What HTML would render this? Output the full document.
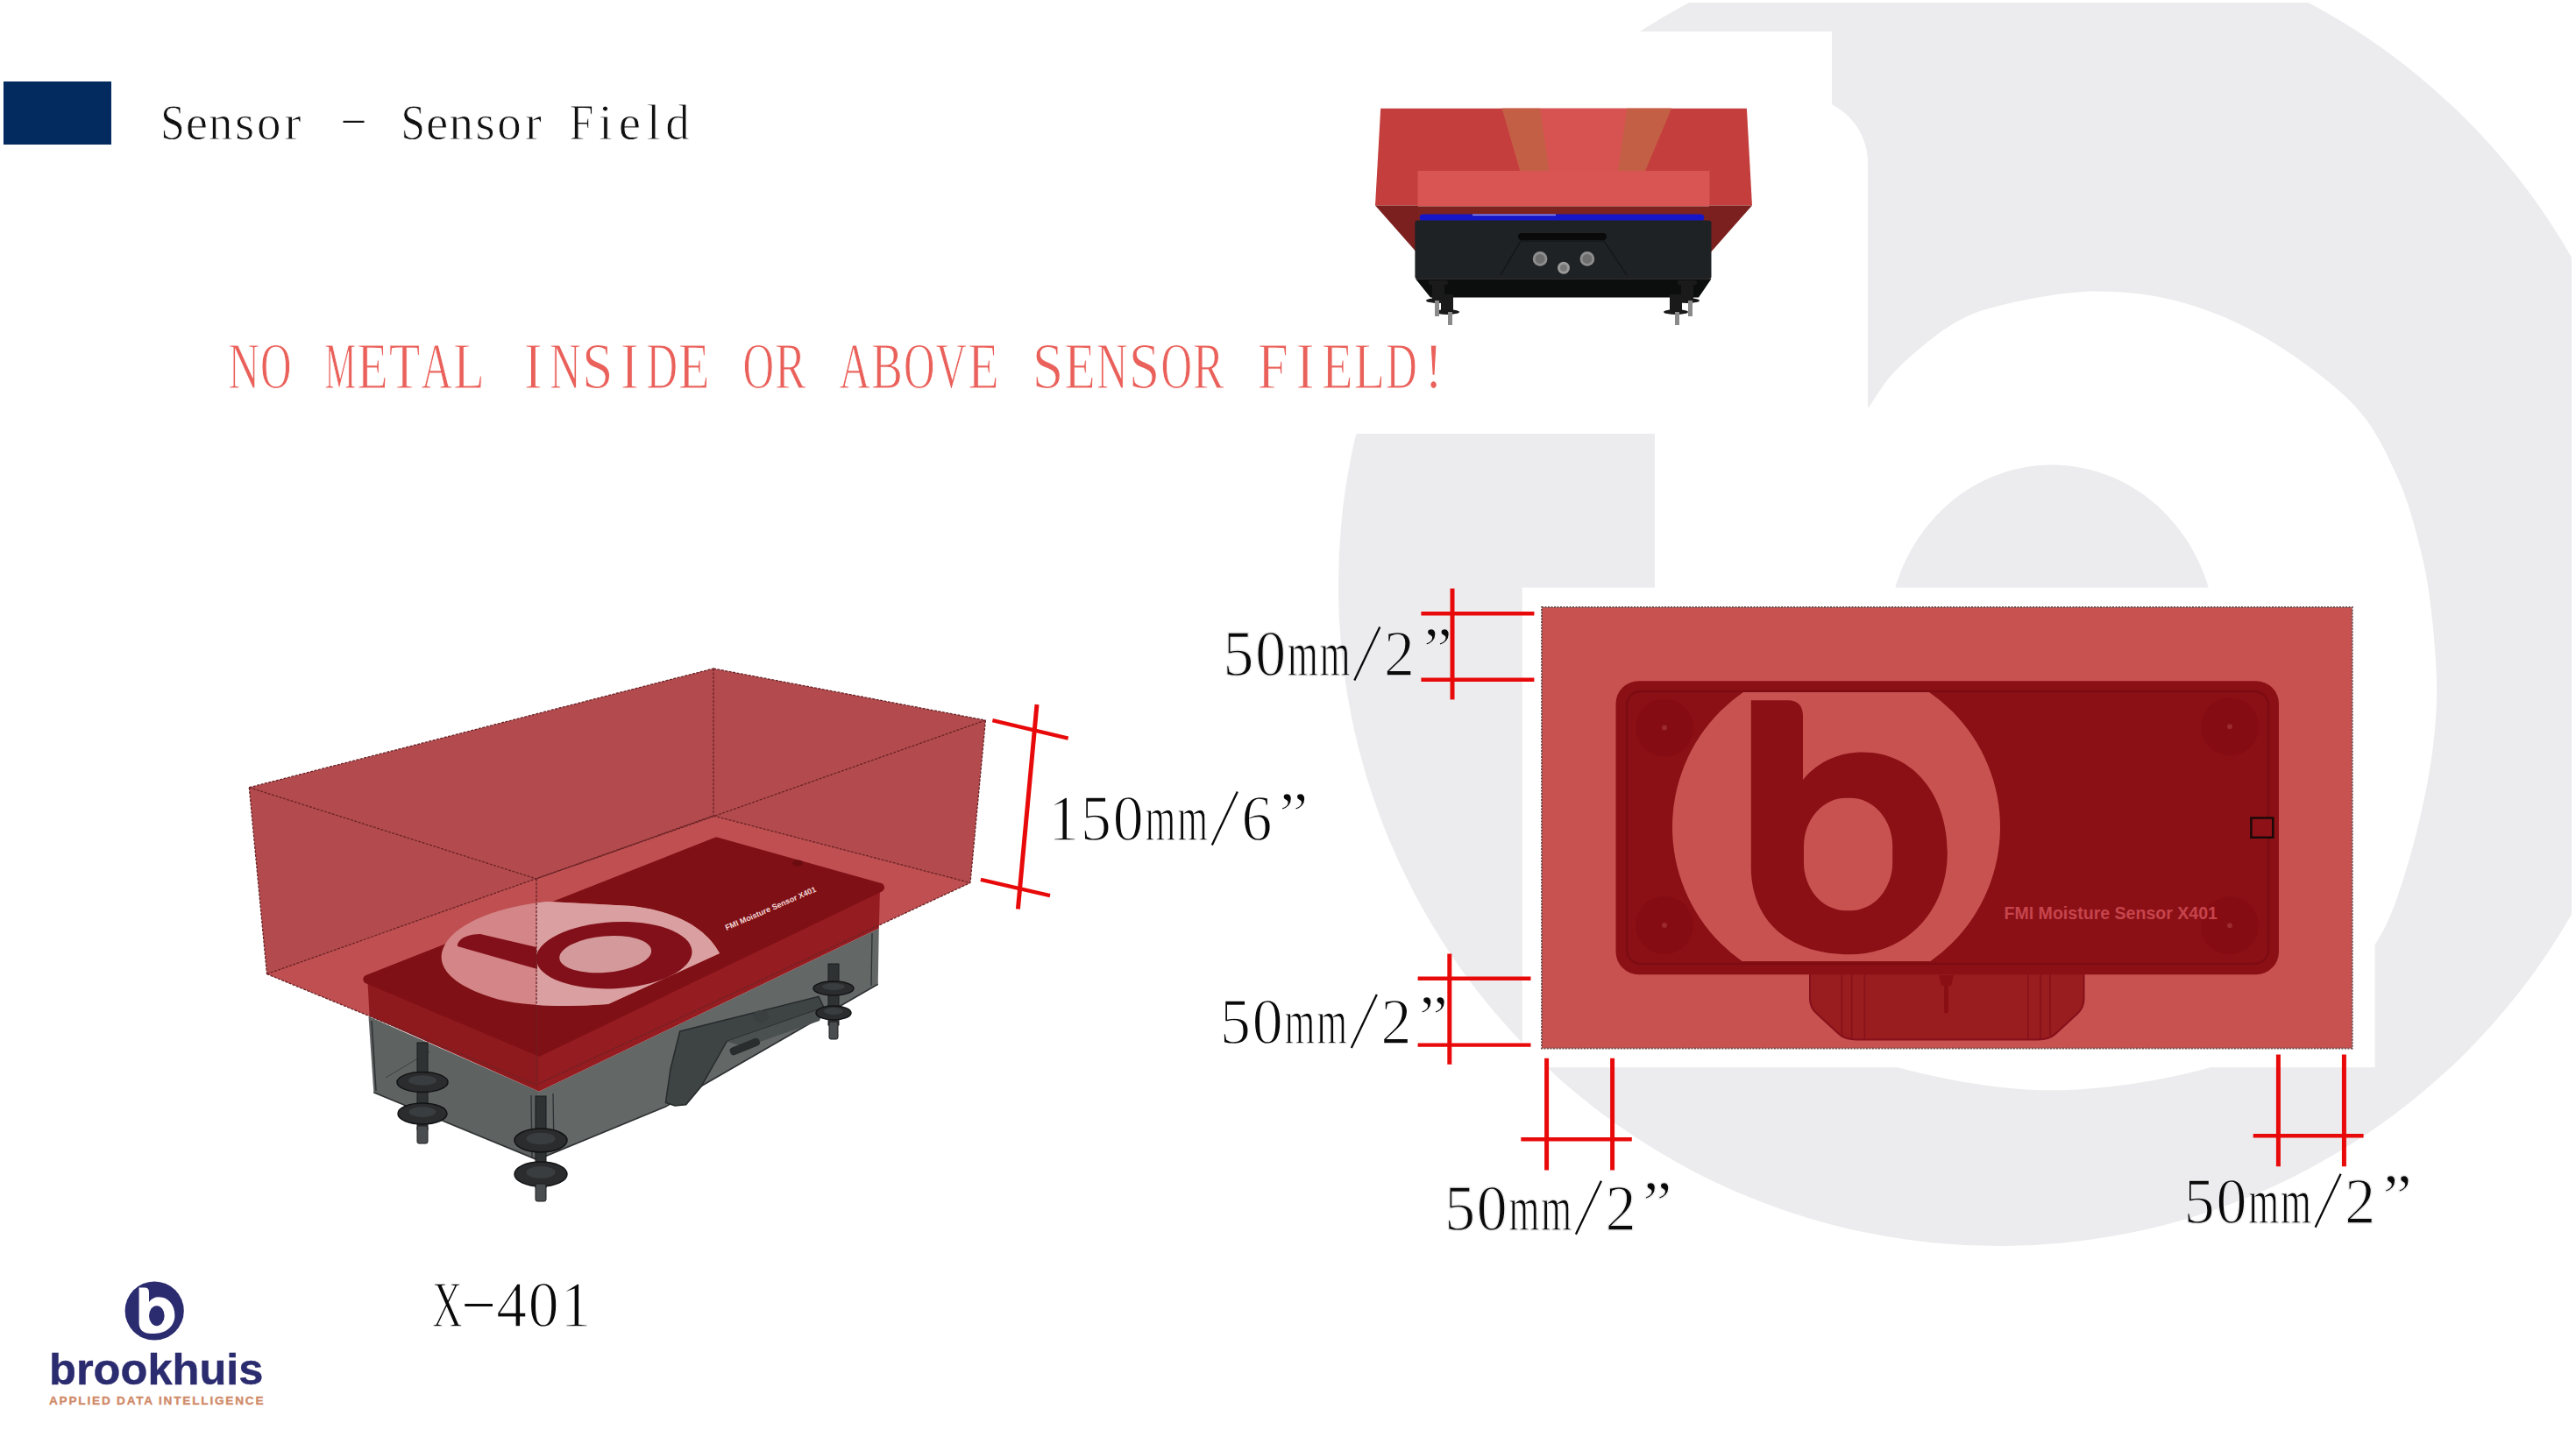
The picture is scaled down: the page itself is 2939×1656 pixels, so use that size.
<!DOCTYPE html>
<html><head><meta charset="utf-8"><title>Sensor - Sensor Field</title>
<style>
html,body{margin:0;padding:0;background:#fff;}
body{width:2939px;height:1656px;position:relative;overflow:hidden;font-family:"Liberation Serif",serif;}
svg{position:absolute;left:0;top:0;}
svg text{font-family:"Liberation Serif",serif;}
</style></head>
<body>
<svg width="2939" height="1656" viewBox="0 0 2939 1656">
<defs>
<clipPath id="wmclip"><rect x="0" y="3" width="2934" height="1653"/></clipPath>
<clipPath id="logoclip"><rect x="1843" y="790" width="760" height="307"/></clipPath>
</defs>
<g clip-path="url(#wmclip)">
<circle cx="2280.4" cy="668.6" r="753.5" fill="#ececee"/>
<path d="M1888 1120 V111 H2056 A75 75 0 0 1 2131 186 V1120 Z" fill="#fff"/>
<path d="M2131.0 466.1 C2142.4 450.9 2148.5 436.8 2165.1 420.5 C2181.7 404.2 2208.6 380.9 2230.3 368.4 C2252.0 355.9 2268.3 351.6 2295.4 345.6 C2322.5 339.6 2360.5 332.6 2393.1 332.6 C2425.7 332.6 2458.2 336.4 2490.8 345.6 C2523.4 354.8 2556.0 368.3 2588.6 387.9 C2621.2 407.4 2661.9 436.8 2686.3 462.9 C2710.7 489.0 2722.6 517.2 2735.1 544.3 C2747.6 571.4 2754.7 599.8 2761.2 625.7 C2767.7 651.7 2771.1 671.6 2774.2 700.0 C2777.3 728.4 2780.7 764.3 2780.0 796.0 C2779.3 827.7 2776.2 856.0 2770.0 890.0 C2763.8 924.0 2753.2 968.5 2743.0 1000.0 C2732.8 1031.5 2726.2 1052.3 2709.0 1079.0 C2691.8 1105.7 2671.7 1136.7 2640.0 1160.0 C2608.3 1183.3 2569.0 1205.0 2519.0 1219.0 C2469.0 1233.0 2398.5 1244.3 2340.0 1244.3 C2281.5 1244.3 2214.7 1231.4 2168.0 1219.0 C2121.3 1206.6 2096.0 1186.3 2060.0 1170.0 L1960 1080 L1950 500 Z" fill="#fff"/>
<rect x="2153.7" y="530.6" width="374.6" height="522" rx="187" ry="200" fill="#ececee"/>
</g>
<rect x="1480" y="36" width="610" height="459" fill="#fff"/>
<rect x="1736.7" y="670.6" width="972.8" height="547.6" fill="#fff"/>
<g>
<rect x="1759" y="693" width="924.7" height="503.5" fill="#c85250" stroke="#6e5050" stroke-width="2" stroke-dasharray="2 1.5"/>
<path d="M2065 1105 H2377.5 V1140 Q2377.5 1150 2370 1157 L2345 1180 Q2338 1186.4 2325 1186.4 H2118 Q2105 1186.4 2098 1180 L2073 1157 Q2065 1150 2065 1140 Z" fill="#991c1f" stroke="#85101a" stroke-width="2"/>
<g stroke="#85121a" stroke-width="1.6"><line x1="2101.5" y1="1112" x2="2101.5" y2="1184"/><line x1="2112.7" y1="1112" x2="2112.7" y2="1186"/><line x1="2127.3" y1="1112" x2="2127.3" y2="1186"/>
<line x1="2313.9" y1="1112" x2="2313.9" y2="1186"/><line x1="2327.9" y1="1112" x2="2327.9" y2="1186"/><line x1="2339" y1="1112" x2="2339" y2="1182"/></g>
<path d="M2212 1113 H2229 L2226 1125 H2223 V1155 Q2220.5 1158 2218 1155 V1125 H2215 Z" fill="#8a0f14"/>
<rect x="1843.5" y="777.2" width="756.5" height="335" rx="26" fill="#8b1016"/>
<rect x="1856" y="789" width="732" height="311" rx="16" fill="none" stroke="#7d0c12" stroke-width="2.5"/>
<circle cx="1899" cy="830.5" r="33" fill="#850c12"/><circle cx="1899" cy="830.5" r="3" fill="#9a2a2e"/>
<circle cx="1899" cy="1056" r="33" fill="#850c12"/><circle cx="1899" cy="1056" r="3" fill="#9a2a2e"/>
<circle cx="2544" cy="829.3" r="33" fill="#850c12"/><circle cx="2544" cy="829.3" r="3" fill="#9a2a2e"/>
<circle cx="2544" cy="1056.3" r="33" fill="#850c12"/><circle cx="2544" cy="1056.3" r="3" fill="#9a2a2e"/>
<g clip-path="url(#logoclip)"><circle cx="2095" cy="944" r="187" fill="#c85250"/></g>
<path d="M1997.8 799.3 H2040 Q2057 799.3 2057 818 V890 C2075 868 2100 858.5 2125 858.5 C2185 858.5 2221.8 910 2221.8 973 C2221.8 1040 2175 1089.3 2110 1089.3 C2040 1089.3 1997.8 1050 1997.8 990 Z" fill="#8b1016"/>
<rect x="2058" y="910.8" width="101.2" height="128.5" rx="48" ry="55" fill="#c85250"/>
<rect x="2568.4" y="933.5" width="24.9" height="22.3" fill="#8e1117" stroke="#1a0a0a" stroke-width="2.5"/>
<text x="2286.5" y="1048.5" style="font-family:'Liberation Sans',sans-serif;font-weight:bold" font-size="20.5" fill="#c6444c" textLength="243.5" lengthAdjust="spacingAndGlyphs">FMI Moisture Sensor X401</text>
</g>
<g>
<polygon points="1575.2,123.8 1992.9,123.8 1999,234.4 1569,234.4" fill="#c33e3c"/>
<polygon points="1569,234.4 1618,234.4 1618,290" fill="#7c1f1f"/>
<polygon points="1999,234.4 1950,234.4 1950,290" fill="#7c1f1f"/>
<polygon points="1713.7,123.8 1907,123.8 1877,195 1734.4,195" fill="#d75351"/>
<polygon points="1713.7,123.8 1757,123.8 1767.5,195 1734.4,195" fill="#c35f45"/>
<polygon points="1856.4,123.8 1907,123.8 1877,195 1846,195" fill="#c35f45"/>
<rect x="1617.5" y="195" width="333" height="40.4" fill="#d85553"/>
<rect x="1617.5" y="235.4" width="333" height="17" fill="#7c2320"/>
<rect x="1619.6" y="244.5" width="324.7" height="8" rx="4" fill="#1616c8"/>
<rect x="1680" y="244.5" width="95" height="1.6" fill="#8a8ae8"/>
<rect x="1614.4" y="251.5" width="338.1" height="67" rx="3" fill="#1f2225"/>
<polygon points="1615,318.3 1952.5,318.3 1938,339.5 1632,339.5" fill="#0c0d0d"/>
<rect x="1732" y="266" width="101" height="8" rx="4" fill="#0a0a0b"/>
<polyline points="1712,314 1735,275 1830,275 1856,314" fill="none" stroke="#15171a" stroke-width="1.5"/>
<circle cx="1757.1" cy="295.4" r="8.3" fill="#8e8e8e"/><circle cx="1757.1" cy="295.4" r="5.5" fill="#6e6e6e"/>
<circle cx="1810.9" cy="295.4" r="8.3" fill="#8e8e8e"/><circle cx="1810.9" cy="295.4" r="5.5" fill="#6e6e6e"/>
<circle cx="1784" cy="305.7" r="7" fill="#9a9a9a"/><circle cx="1784" cy="305.7" r="4" fill="#777"/>
<g fill="#1a1a1a">
<rect x="1630" y="320" width="22" height="5" rx="2"/><rect x="1634" y="325" width="14" height="18"/><ellipse cx="1641" cy="343" rx="14" ry="3"/>
<rect x="1644" y="336" width="14" height="20"/><ellipse cx="1651" cy="356" rx="14" ry="3"/>
<rect x="1914" y="320" width="22" height="5" rx="2"/><rect x="1918" y="325" width="14" height="18"/><ellipse cx="1925" cy="343" rx="14" ry="3"/>
<rect x="1905" y="336" width="14" height="20"/><ellipse cx="1912" cy="356" rx="14" ry="3"/>
</g>
<g fill="#8a8a8a">
<rect x="1637" y="343" width="5" height="18"/><rect x="1652" y="356" width="5" height="15"/>
<rect x="1926" y="343" width="5" height="18"/><rect x="1911" y="356" width="5" height="15"/>
</g>
</g>
<polygon points="284.3,898.7 814.0,763.0 1124.4,822.0 1107.0,1007.5 612.0,1238.0 304.5,1111.6" fill="#b34b4e"/>
<polygon points="304.5,1111.6 814.0,931.0 1107.0,1007.5 612.0,1238.0" fill="#bf4f51"/>
<g>
<polygon points="420.5,1160 615,1245.8 612.7,1323.6 426.3,1246.7" fill="#5e6261"/>
<polygon points="615,1245.8 1002.8,1059.5 1001.7,1123.3 759.4,1263 612.7,1323.6" fill="#636766"/>
<polyline points="426.3,1246.7 612.7,1323.6 759.4,1263 1001.7,1123.3" fill="none" stroke="#2e3133" stroke-width="1.6"/>
<line x1="424" y1="1165" x2="429" y2="1245" stroke="#2e3133" stroke-width="1.5"/>
<line x1="606" y1="1250" x2="607" y2="1322" stroke="#2e3133" stroke-width="1.3"/>
<line x1="631" y1="1248" x2="632" y2="1314" stroke="#2e3133" stroke-width="1.3"/>
<line x1="440" y1="1230" x2="490" y2="1200" stroke="#3e4443" stroke-width="1"/>
<line x1="995" y1="1065" x2="994" y2="1125" stroke="#2e3133" stroke-width="1.3"/>
<polygon points="775.7,1176.9 934,1137.3 940,1150 829.3,1188.5 800,1240 782.7,1260.7 770,1262 759.4,1258.4 765,1220" fill="#3e4344" stroke="#262a2b" stroke-width="1.5"/>
<polygon points="829.3,1188.5 940,1150 935,1165 850,1195" fill="#4a4f50"/>
<rect x="832" y="1190" width="36" height="9" rx="4" transform="rotate(-22 850 1195)" fill="#2a2d2e"/>
<ellipse cx="868" cy="1160" rx="9" ry="7" fill="#3a3f40"/>
</g>
<rect x="476" y="1190" width="12" height="99" fill="#2f3233" stroke="#1a1b1c" stroke-width="1"/><ellipse cx="482" cy="1235" rx="29" ry="11.5" fill="#2a2c2e" stroke="#121314" stroke-width="1.5"/><ellipse cx="482" cy="1233" rx="16.0" ry="5.8" fill="#3a3d3f"/><ellipse cx="482" cy="1271" rx="28" ry="12" fill="#2a2c2e" stroke="#121314" stroke-width="1.5"/><ellipse cx="482" cy="1269" rx="15.4" ry="6.0" fill="#3a3d3f"/><rect x="476.0" y="1285" width="12" height="20" rx="2" fill="#4a4d4f" stroke="#1e1f20" stroke-width="1"/>
<rect x="611" y="1251" width="12" height="104" fill="#2f3233" stroke="#1a1b1c" stroke-width="1"/><ellipse cx="617" cy="1301.5" rx="30" ry="13.4" fill="#2a2c2e" stroke="#121314" stroke-width="1.5"/><ellipse cx="617" cy="1299.5" rx="16.5" ry="6.7" fill="#3a3d3f"/><ellipse cx="617" cy="1340" rx="30" ry="14" fill="#2a2c2e" stroke="#121314" stroke-width="1.5"/><ellipse cx="617" cy="1338" rx="16.5" ry="7.0" fill="#3a3d3f"/><rect x="611.0" y="1351" width="12" height="20" rx="2" fill="#4a4d4f" stroke="#1e1f20" stroke-width="1"/>
<rect x="945" y="1100" width="12" height="70" fill="#2f3233" stroke="#1a1b1c" stroke-width="1"/><ellipse cx="951" cy="1128" rx="23" ry="8" fill="#2a2c2e" stroke="#121314" stroke-width="1.5"/><ellipse cx="951" cy="1126" rx="12.7" ry="4.0" fill="#3a3d3f"/><ellipse cx="951" cy="1156" rx="20" ry="8" fill="#2a2c2e" stroke="#121314" stroke-width="1.5"/><ellipse cx="951" cy="1154" rx="11.0" ry="4.0" fill="#3a3d3f"/><rect x="946.0" y="1166" width="10" height="20" rx="2" fill="#4a4d4f" stroke="#1e1f20" stroke-width="1"/>
<polygon points="419.3,1117.7 615.0,1200.4 615.0,1245.8 421.6,1159.6" fill="#8f1a1e"/>
<polygon points="615.0,1200.4 1004.0,1012.9 1002.8,1059.5 615.0,1245.8" fill="#951c20"/>
<polygon points="419.3,1117.7 817.6,960.5 1004.0,1012.9 615.0,1200.4" fill="#7f1015" stroke="#7f1015" stroke-width="10" stroke-linejoin="round"/>
<polygon points="419.3,1117.7 817.6,960.5 1004.0,1012.9 615.0,1200.4" fill="#7f1015"/>
<defs><clipPath id="lidr"><rect x="612" y="900" width="400" height="400"/></clipPath></defs>
<path d="M503.6 1091.5 C505 1060 560 1035 625 1029 L721 1034 C770 1040 805 1058 821 1088 L694 1146 C640 1150 590 1148 560 1138 C520 1125 503 1108 503.6 1091.5 Z" fill="#d48587"/>
<path d="M503.6 1091.5 C505 1060 560 1035 625 1029 L721 1034 C770 1040 805 1058 821 1088 L694 1146 C640 1150 590 1148 560 1138 C520 1125 503 1108 503.6 1091.5 Z" fill="#da9fa0" clip-path="url(#lidr)"/>
<ellipse cx="700.6" cy="1090.2" rx="89" ry="38" transform="rotate(-3 700.6 1090.2)" fill="#82101a"/>
<ellipse cx="690.7" cy="1089.1" rx="52.6" ry="20.7" transform="rotate(-5 690.7 1089.1)" fill="#d4999a"/>
<path d="M522 1077.5 C525 1070 535 1066 548 1066 L612 1081 L613 1106 L522 1080 Z" fill="#82101a"/>
<text x="0" y="0" style="font-family:'Liberation Sans',sans-serif;font-weight:bold" font-size="9" fill="#f2d6d6" transform="translate(829 1062) rotate(-23.5)">FMI Moisture Sensor X401</text>
<ellipse cx="910" cy="985" rx="6" ry="3.5" fill="#6a0c10"/>
<line x1="284.3" y1="898.7" x2="814.0" y2="763.0" stroke="#6a2326" stroke-width="1.3" stroke-dasharray="3 1.5"/><line x1="814.0" y1="763.0" x2="1124.4" y2="822.0" stroke="#6a2326" stroke-width="1.3" stroke-dasharray="3 1.5"/><line x1="1124.4" y1="822.0" x2="1107.0" y2="1007.5" stroke="#6a2326" stroke-width="1.3" stroke-dasharray="3 1.5"/><line x1="284.3" y1="898.7" x2="304.5" y2="1111.6" stroke="#6a2326" stroke-width="1.3" stroke-dasharray="3 1.5"/><line x1="304.5" y1="1111.6" x2="612.0" y2="1238.0" stroke="#6a2326" stroke-width="1.3" stroke-dasharray="3 1.5"/><line x1="612.0" y1="1238.0" x2="1107.0" y2="1007.5" stroke="#6a2326" stroke-width="1.3" stroke-dasharray="3 1.5"/><line x1="284.3" y1="898.7" x2="612.0" y2="1003.0" stroke="#6a2326" stroke-width="1.3" stroke-dasharray="3 1.5"/><line x1="612.0" y1="1003.0" x2="1124.4" y2="822.0" stroke="#6a2326" stroke-width="1.3" stroke-dasharray="3 1.5"/><line x1="304.5" y1="1111.6" x2="814.0" y2="931.0" stroke="#6a2326" stroke-width="1.3" stroke-dasharray="3 1.5"/><line x1="814.0" y1="931.0" x2="1107.0" y2="1007.5" stroke="#6a2326" stroke-width="1.3" stroke-dasharray="3 1.5"/><line x1="814.0" y1="763.0" x2="814.0" y2="931.0" stroke="#6a2326" stroke-width="1.3" stroke-dasharray="3 1.5"/><line x1="612.0" y1="1003.0" x2="612.0" y2="1238.0" stroke="#6a2326" stroke-width="1.3" stroke-dasharray="3 1.5"/>
<rect x="4" y="93" width="123" height="72" fill="#032b5f"/>
<text x="196.9" y="159.4" text-anchor="middle" font-size="57" fill="#111" transform="translate(196.9 0) scale(0.866 1) translate(-196.9 0)" stroke="#fff" stroke-width="0.9">S</text>
<text x="224.3" y="159.4" text-anchor="middle" font-size="57" fill="#111" transform="translate(224.3 0) scale(1.000 1) translate(-224.3 0)" stroke="#fff" stroke-width="0.9">e</text>
<text x="251.8" y="159.4" text-anchor="middle" font-size="57" fill="#111" transform="translate(251.8 0) scale(0.963 1) translate(-251.8 0)" stroke="#fff" stroke-width="0.9">n</text>
<text x="279.2" y="159.4" text-anchor="middle" font-size="57" fill="#111" transform="translate(279.2 0) scale(1.000 1) translate(-279.2 0)" stroke="#fff" stroke-width="0.9">s</text>
<text x="306.7" y="159.4" text-anchor="middle" font-size="57" fill="#111" transform="translate(306.7 0) scale(0.963 1) translate(-306.7 0)" stroke="#fff" stroke-width="0.9">o</text>
<text x="334.1" y="159.4" text-anchor="middle" font-size="57" fill="#111" transform="translate(334.1 0) scale(1.000 1) translate(-334.1 0)" stroke="#fff" stroke-width="0.9">r</text>
<rect x="391.5" y="137.8" width="24" height="2.2" fill="#111"/>
<text x="471.3" y="159.4" text-anchor="middle" font-size="57" fill="#111" transform="translate(471.3 0) scale(0.866 1) translate(-471.3 0)" stroke="#fff" stroke-width="0.9">S</text>
<text x="498.7" y="159.4" text-anchor="middle" font-size="57" fill="#111" transform="translate(498.7 0) scale(1.000 1) translate(-498.7 0)" stroke="#fff" stroke-width="0.9">e</text>
<text x="526.2" y="159.4" text-anchor="middle" font-size="57" fill="#111" transform="translate(526.2 0) scale(0.963 1) translate(-526.2 0)" stroke="#fff" stroke-width="0.9">n</text>
<text x="553.6" y="159.4" text-anchor="middle" font-size="57" fill="#111" transform="translate(553.6 0) scale(1.000 1) translate(-553.6 0)" stroke="#fff" stroke-width="0.9">s</text>
<text x="581.1" y="159.4" text-anchor="middle" font-size="57" fill="#111" transform="translate(581.1 0) scale(0.963 1) translate(-581.1 0)" stroke="#fff" stroke-width="0.9">o</text>
<text x="608.5" y="159.4" text-anchor="middle" font-size="57" fill="#111" transform="translate(608.5 0) scale(1.000 1) translate(-608.5 0)" stroke="#fff" stroke-width="0.9">r</text>
<text x="663.4" y="159.4" text-anchor="middle" font-size="57" fill="#111" transform="translate(663.4 0) scale(0.866 1) translate(-663.4 0)" stroke="#fff" stroke-width="0.9">F</text>
<text x="690.8" y="159.4" text-anchor="middle" font-size="57" fill="#111" transform="translate(690.8 0) scale(1.000 1) translate(-690.8 0)" stroke="#fff" stroke-width="0.9">i</text>
<text x="718.3" y="159.4" text-anchor="middle" font-size="57" fill="#111" transform="translate(718.3 0) scale(1.000 1) translate(-718.3 0)" stroke="#fff" stroke-width="0.9">e</text>
<text x="745.7" y="159.4" text-anchor="middle" font-size="57" fill="#111" transform="translate(745.7 0) scale(1.000 1) translate(-745.7 0)" stroke="#fff" stroke-width="0.9">l</text>
<text x="773.1" y="159.4" text-anchor="middle" font-size="57" fill="#111" transform="translate(773.1 0) scale(0.963 1) translate(-773.1 0)" stroke="#fff" stroke-width="0.9">d</text>
<text x="278.2" y="443.2" text-anchor="middle" font-size="75" fill="#ea605a" transform="translate(278.2 0) scale(0.657 1) translate(-278.2 0)" stroke="#fff" stroke-width="1.2">N</text>
<text x="314.9" y="443.2" text-anchor="middle" font-size="75" fill="#ea605a" transform="translate(314.9 0) scale(0.657 1) translate(-314.9 0)" stroke="#fff" stroke-width="1.2">O</text>
<text x="388.3" y="443.2" text-anchor="middle" font-size="75" fill="#ea605a" transform="translate(388.3 0) scale(0.534 1) translate(-388.3 0)" stroke="#fff" stroke-width="1.2">M</text>
<text x="425.0" y="443.2" text-anchor="middle" font-size="75" fill="#ea605a" transform="translate(425.0 0) scale(0.777 1) translate(-425.0 0)" stroke="#fff" stroke-width="1.2">E</text>
<text x="461.6" y="443.2" text-anchor="middle" font-size="75" fill="#ea605a" transform="translate(461.6 0) scale(0.777 1) translate(-461.6 0)" stroke="#fff" stroke-width="1.2">T</text>
<text x="498.3" y="443.2" text-anchor="middle" font-size="75" fill="#ea605a" transform="translate(498.3 0) scale(0.657 1) translate(-498.3 0)" stroke="#fff" stroke-width="1.2">A</text>
<text x="535.0" y="443.2" text-anchor="middle" font-size="75" fill="#ea605a" transform="translate(535.0 0) scale(0.777 1) translate(-535.0 0)" stroke="#fff" stroke-width="1.2">L</text>
<text x="608.4" y="443.2" text-anchor="middle" font-size="75" fill="#ea605a" transform="translate(608.4 0) scale(0.850 1) translate(-608.4 0)" stroke="#fff" stroke-width="1.2">I</text>
<text x="645.1" y="443.2" text-anchor="middle" font-size="75" fill="#ea605a" transform="translate(645.1 0) scale(0.657 1) translate(-645.1 0)" stroke="#fff" stroke-width="1.2">N</text>
<text x="681.8" y="443.2" text-anchor="middle" font-size="75" fill="#ea605a" transform="translate(681.8 0) scale(0.850 1) translate(-681.8 0)" stroke="#fff" stroke-width="1.2">S</text>
<text x="718.5" y="443.2" text-anchor="middle" font-size="75" fill="#ea605a" transform="translate(718.5 0) scale(0.850 1) translate(-718.5 0)" stroke="#fff" stroke-width="1.2">I</text>
<text x="755.2" y="443.2" text-anchor="middle" font-size="75" fill="#ea605a" transform="translate(755.2 0) scale(0.657 1) translate(-755.2 0)" stroke="#fff" stroke-width="1.2">D</text>
<text x="791.9" y="443.2" text-anchor="middle" font-size="75" fill="#ea605a" transform="translate(791.9 0) scale(0.777 1) translate(-791.9 0)" stroke="#fff" stroke-width="1.2">E</text>
<text x="865.2" y="443.2" text-anchor="middle" font-size="75" fill="#ea605a" transform="translate(865.2 0) scale(0.657 1) translate(-865.2 0)" stroke="#fff" stroke-width="1.2">O</text>
<text x="901.9" y="443.2" text-anchor="middle" font-size="75" fill="#ea605a" transform="translate(901.9 0) scale(0.711 1) translate(-901.9 0)" stroke="#fff" stroke-width="1.2">R</text>
<text x="975.3" y="443.2" text-anchor="middle" font-size="75" fill="#ea605a" transform="translate(975.3 0) scale(0.657 1) translate(-975.3 0)" stroke="#fff" stroke-width="1.2">A</text>
<text x="1012.0" y="443.2" text-anchor="middle" font-size="75" fill="#ea605a" transform="translate(1012.0 0) scale(0.711 1) translate(-1012.0 0)" stroke="#fff" stroke-width="1.2">B</text>
<text x="1048.7" y="443.2" text-anchor="middle" font-size="75" fill="#ea605a" transform="translate(1048.7 0) scale(0.657 1) translate(-1048.7 0)" stroke="#fff" stroke-width="1.2">O</text>
<text x="1085.4" y="443.2" text-anchor="middle" font-size="75" fill="#ea605a" transform="translate(1085.4 0) scale(0.657 1) translate(-1085.4 0)" stroke="#fff" stroke-width="1.2">V</text>
<text x="1122.1" y="443.2" text-anchor="middle" font-size="75" fill="#ea605a" transform="translate(1122.1 0) scale(0.777 1) translate(-1122.1 0)" stroke="#fff" stroke-width="1.2">E</text>
<text x="1195.5" y="443.2" text-anchor="middle" font-size="75" fill="#ea605a" transform="translate(1195.5 0) scale(0.850 1) translate(-1195.5 0)" stroke="#fff" stroke-width="1.2">S</text>
<text x="1232.1" y="443.2" text-anchor="middle" font-size="75" fill="#ea605a" transform="translate(1232.1 0) scale(0.777 1) translate(-1232.1 0)" stroke="#fff" stroke-width="1.2">E</text>
<text x="1268.8" y="443.2" text-anchor="middle" font-size="75" fill="#ea605a" transform="translate(1268.8 0) scale(0.657 1) translate(-1268.8 0)" stroke="#fff" stroke-width="1.2">N</text>
<text x="1305.5" y="443.2" text-anchor="middle" font-size="75" fill="#ea605a" transform="translate(1305.5 0) scale(0.850 1) translate(-1305.5 0)" stroke="#fff" stroke-width="1.2">S</text>
<text x="1342.2" y="443.2" text-anchor="middle" font-size="75" fill="#ea605a" transform="translate(1342.2 0) scale(0.657 1) translate(-1342.2 0)" stroke="#fff" stroke-width="1.2">O</text>
<text x="1378.9" y="443.2" text-anchor="middle" font-size="75" fill="#ea605a" transform="translate(1378.9 0) scale(0.711 1) translate(-1378.9 0)" stroke="#fff" stroke-width="1.2">R</text>
<text x="1452.3" y="443.2" text-anchor="middle" font-size="75" fill="#ea605a" transform="translate(1452.3 0) scale(0.850 1) translate(-1452.3 0)" stroke="#fff" stroke-width="1.2">F</text>
<text x="1489.0" y="443.2" text-anchor="middle" font-size="75" fill="#ea605a" transform="translate(1489.0 0) scale(0.850 1) translate(-1489.0 0)" stroke="#fff" stroke-width="1.2">I</text>
<text x="1525.7" y="443.2" text-anchor="middle" font-size="75" fill="#ea605a" transform="translate(1525.7 0) scale(0.777 1) translate(-1525.7 0)" stroke="#fff" stroke-width="1.2">E</text>
<text x="1562.3" y="443.2" text-anchor="middle" font-size="75" fill="#ea605a" transform="translate(1562.3 0) scale(0.777 1) translate(-1562.3 0)" stroke="#fff" stroke-width="1.2">L</text>
<text x="1599.0" y="443.2" text-anchor="middle" font-size="75" fill="#ea605a" transform="translate(1599.0 0) scale(0.657 1) translate(-1599.0 0)" stroke="#fff" stroke-width="1.2">D</text>
<text x="1635.7" y="443.2" text-anchor="middle" font-size="75" fill="#ea605a" transform="translate(1635.7 0) scale(0.850 1) translate(-1635.7 0)" stroke="#fff" stroke-width="1.2">!</text>
<text x="1413.0" y="771.5" text-anchor="middle" font-size="75" fill="#0a0a0a" transform="translate(1413.0 0) scale(0.930 1) translate(-1413.0 0)" stroke="#ececee" stroke-width="1.4">5</text>
<text x="1449.7" y="771.5" text-anchor="middle" font-size="75" fill="#0a0a0a" transform="translate(1449.7 0) scale(0.930 1) translate(-1449.7 0)" stroke="#ececee" stroke-width="1.4">0</text>
<text x="1486.4" y="771.5" text-anchor="middle" font-size="75" fill="#0a0a0a" transform="translate(1486.4 0) scale(0.598 1) translate(-1486.4 0)" stroke="#ececee" stroke-width="1.4">m</text>
<text x="1523.1" y="771.5" text-anchor="middle" font-size="75" fill="#0a0a0a" transform="translate(1523.1 0) scale(0.598 1) translate(-1523.1 0)" stroke="#ececee" stroke-width="1.4">m</text>
<line x1="1574.3" y1="715.5" x2="1545.3" y2="776.5" stroke="#0a0a0a" stroke-width="2.3"/>
<text x="1596.5" y="771.5" text-anchor="middle" font-size="75" fill="#0a0a0a" transform="translate(1596.5 0) scale(0.930 1) translate(-1596.5 0)" stroke="#ececee" stroke-width="1.4">2</text>
<text x="1640.3" y="767.0" text-anchor="middle" font-size="75" fill="#0a0a0a" stroke="#ececee" stroke-width="1.4">”</text>
<text x="1409.5" y="1191.0" text-anchor="middle" font-size="75" fill="#0a0a0a" transform="translate(1409.5 0) scale(0.930 1) translate(-1409.5 0)" stroke="#fff" stroke-width="1.4">5</text>
<text x="1446.2" y="1191.0" text-anchor="middle" font-size="75" fill="#0a0a0a" transform="translate(1446.2 0) scale(0.930 1) translate(-1446.2 0)" stroke="#fff" stroke-width="1.4">0</text>
<text x="1482.9" y="1191.0" text-anchor="middle" font-size="75" fill="#0a0a0a" transform="translate(1482.9 0) scale(0.598 1) translate(-1482.9 0)" stroke="#fff" stroke-width="1.4">m</text>
<text x="1519.6" y="1191.0" text-anchor="middle" font-size="75" fill="#0a0a0a" transform="translate(1519.6 0) scale(0.598 1) translate(-1519.6 0)" stroke="#fff" stroke-width="1.4">m</text>
<line x1="1570.8" y1="1135.0" x2="1541.8" y2="1196.0" stroke="#0a0a0a" stroke-width="2.3"/>
<text x="1593.0" y="1191.0" text-anchor="middle" font-size="75" fill="#0a0a0a" transform="translate(1593.0 0) scale(0.930 1) translate(-1593.0 0)" stroke="#fff" stroke-width="1.4">2</text>
<text x="1635.5" y="1186.5" text-anchor="middle" font-size="75" fill="#0a0a0a" stroke="#fff" stroke-width="1.4">”</text>
<text x="1665.6" y="1403.8" text-anchor="middle" font-size="75" fill="#0a0a0a" transform="translate(1665.6 0) scale(0.930 1) translate(-1665.6 0)" stroke="#ececee" stroke-width="1.4">5</text>
<text x="1702.3" y="1403.8" text-anchor="middle" font-size="75" fill="#0a0a0a" transform="translate(1702.3 0) scale(0.930 1) translate(-1702.3 0)" stroke="#ececee" stroke-width="1.4">0</text>
<text x="1739.0" y="1403.8" text-anchor="middle" font-size="75" fill="#0a0a0a" transform="translate(1739.0 0) scale(0.598 1) translate(-1739.0 0)" stroke="#ececee" stroke-width="1.4">m</text>
<text x="1775.7" y="1403.8" text-anchor="middle" font-size="75" fill="#0a0a0a" transform="translate(1775.7 0) scale(0.598 1) translate(-1775.7 0)" stroke="#ececee" stroke-width="1.4">m</text>
<line x1="1826.9" y1="1347.8" x2="1797.9" y2="1408.8" stroke="#0a0a0a" stroke-width="2.3"/>
<text x="1849.1" y="1403.8" text-anchor="middle" font-size="75" fill="#0a0a0a" transform="translate(1849.1 0) scale(0.930 1) translate(-1849.1 0)" stroke="#ececee" stroke-width="1.4">2</text>
<text x="1890.9" y="1399.3" text-anchor="middle" font-size="75" fill="#0a0a0a" stroke="#ececee" stroke-width="1.4">”</text>
<text x="2509.3" y="1395.8" text-anchor="middle" font-size="75" fill="#0a0a0a" transform="translate(2509.3 0) scale(0.930 1) translate(-2509.3 0)" stroke="#ececee" stroke-width="1.4">5</text>
<text x="2546.0" y="1395.8" text-anchor="middle" font-size="75" fill="#0a0a0a" transform="translate(2546.0 0) scale(0.930 1) translate(-2546.0 0)" stroke="#ececee" stroke-width="1.4">0</text>
<text x="2582.7" y="1395.8" text-anchor="middle" font-size="75" fill="#0a0a0a" transform="translate(2582.7 0) scale(0.598 1) translate(-2582.7 0)" stroke="#ececee" stroke-width="1.4">m</text>
<text x="2619.4" y="1395.8" text-anchor="middle" font-size="75" fill="#0a0a0a" transform="translate(2619.4 0) scale(0.598 1) translate(-2619.4 0)" stroke="#ececee" stroke-width="1.4">m</text>
<line x1="2670.6" y1="1339.8" x2="2641.6" y2="1400.8" stroke="#0a0a0a" stroke-width="2.3"/>
<text x="2692.8" y="1395.8" text-anchor="middle" font-size="75" fill="#0a0a0a" transform="translate(2692.8 0) scale(0.930 1) translate(-2692.8 0)" stroke="#ececee" stroke-width="1.4">2</text>
<text x="2735.2" y="1391.3" text-anchor="middle" font-size="75" fill="#0a0a0a" stroke="#ececee" stroke-width="1.4">”</text>
<text x="1213.8" y="959.5" text-anchor="middle" font-size="75" fill="#0a0a0a" transform="translate(1213.8 0) scale(0.930 1) translate(-1213.8 0)" stroke="#fff" stroke-width="1.4">1</text>
<text x="1250.5" y="959.5" text-anchor="middle" font-size="75" fill="#0a0a0a" transform="translate(1250.5 0) scale(0.930 1) translate(-1250.5 0)" stroke="#fff" stroke-width="1.4">5</text>
<text x="1287.2" y="959.5" text-anchor="middle" font-size="75" fill="#0a0a0a" transform="translate(1287.2 0) scale(0.930 1) translate(-1287.2 0)" stroke="#fff" stroke-width="1.4">0</text>
<text x="1323.9" y="959.5" text-anchor="middle" font-size="75" fill="#0a0a0a" transform="translate(1323.9 0) scale(0.598 1) translate(-1323.9 0)" stroke="#fff" stroke-width="1.4">m</text>
<text x="1360.6" y="959.5" text-anchor="middle" font-size="75" fill="#0a0a0a" transform="translate(1360.6 0) scale(0.598 1) translate(-1360.6 0)" stroke="#fff" stroke-width="1.4">m</text>
<line x1="1411.8" y1="903.5" x2="1382.8" y2="964.5" stroke="#0a0a0a" stroke-width="2.3"/>
<text x="1434.0" y="959.5" text-anchor="middle" font-size="75" fill="#0a0a0a" transform="translate(1434.0 0) scale(0.930 1) translate(-1434.0 0)" stroke="#fff" stroke-width="1.4">6</text>
<text x="1475.8" y="955" text-anchor="middle" font-size="75" fill="#0a0a0a" stroke="#fff" stroke-width="1.4">”</text>
<text x="510.4" y="1514.5" text-anchor="middle" font-size="75" fill="#0a0a0a" transform="translate(510.4 0) scale(0.642 1) translate(-510.4 0)" stroke="#fff" stroke-width="1.4">X</text>
<text x="583.6" y="1514.5" text-anchor="middle" font-size="75" fill="#0a0a0a" transform="translate(583.6 0) scale(0.927 1) translate(-583.6 0)" stroke="#fff" stroke-width="1.4">4</text>
<text x="620.2" y="1514.5" text-anchor="middle" font-size="75" fill="#0a0a0a" transform="translate(620.2 0) scale(0.927 1) translate(-620.2 0)" stroke="#fff" stroke-width="1.4">0</text>
<text x="656.8" y="1514.5" text-anchor="middle" font-size="75" fill="#0a0a0a" transform="translate(656.8 0) scale(0.927 1) translate(-656.8 0)" stroke="#fff" stroke-width="1.4">1</text>
<rect x="530.3" y="1488" width="31.7" height="3" fill="#0a0a0a"/>
<line x1="1657" y1="671.6" x2="1657" y2="798.4" stroke="#e80a0a" stroke-width="5"/>
<line x1="1621.4" y1="700.2" x2="1750.4" y2="700.2" stroke="#e80a0a" stroke-width="4.4"/>
<line x1="1621.4" y1="775.8" x2="1750.4" y2="775.8" stroke="#e80a0a" stroke-width="4.4"/>
<line x1="1653.8" y1="1088.5" x2="1653.8" y2="1214.8" stroke="#e80a0a" stroke-width="5"/>
<line x1="1617.6" y1="1116.8" x2="1746.5" y2="1116.8" stroke="#e80a0a" stroke-width="4.4"/>
<line x1="1617.6" y1="1192.6" x2="1746.5" y2="1192.6" stroke="#e80a0a" stroke-width="4.4"/>
<line x1="1764.6" y1="1207.7" x2="1764.6" y2="1335.4" stroke="#e80a0a" stroke-width="5"/>
<line x1="1839.6" y1="1207.7" x2="1839.6" y2="1335.4" stroke="#e80a0a" stroke-width="5"/>
<line x1="1735.3" y1="1300.3" x2="1861.8" y2="1300.3" stroke="#e80a0a" stroke-width="4.4"/>
<line x1="2599.4" y1="1203.6" x2="2599.4" y2="1331.3" stroke="#e80a0a" stroke-width="5"/>
<line x1="2674.4" y1="1203.6" x2="2674.4" y2="1331.3" stroke="#e80a0a" stroke-width="5"/>
<line x1="2570.7" y1="1296.2" x2="2696.6" y2="1296.2" stroke="#e80a0a" stroke-width="4.4"/>
<line x1="1183" y1="804.1" x2="1161.4" y2="1037.6" stroke="#e80a0a" stroke-width="5"/>
<line x1="1132.4" y1="822.1" x2="1218.7" y2="842.7" stroke="#e80a0a" stroke-width="4.4"/>
<line x1="1118.9" y1="1003.8" x2="1198" y2="1022.2" stroke="#e80a0a" stroke-width="4.4"/>
<g>
<circle cx="176.2" cy="1496" r="33.6" fill="#2b2b6f"/>
<path d="M158.6 1522 V1469.6 H165 Q170 1469.6 170 1475 V1486 Q174 1480.2 181.3 1480.2 C192 1480.2 199.4 1489 199.4 1501.3 C199.4 1513 190 1522 176.2 1522 H172 C164 1522 158.6 1518 158.6 1510 Z" fill="#fff"/>
<ellipse cx="178.8" cy="1501.7" rx="8.8" ry="11.5" fill="#2b2b6f"/>
</g>
<text x="56" y="1580.2" style="font-family:'Liberation Sans',sans-serif;font-weight:bold" font-size="50" fill="#2b2b6f" stroke="#2b2b6f" stroke-width="0.4" textLength="244.5" lengthAdjust="spacingAndGlyphs">brookhuis</text>
<text x="56" y="1602.5" style="font-family:'Liberation Sans',sans-serif;font-weight:bold" font-size="13.6" fill="#d08a68" stroke="#d08a68" stroke-width="0.35" textLength="244.5" lengthAdjust="spacing">APPLIED DATA INTELLIGENCE</text>
</svg>
</body></html>
